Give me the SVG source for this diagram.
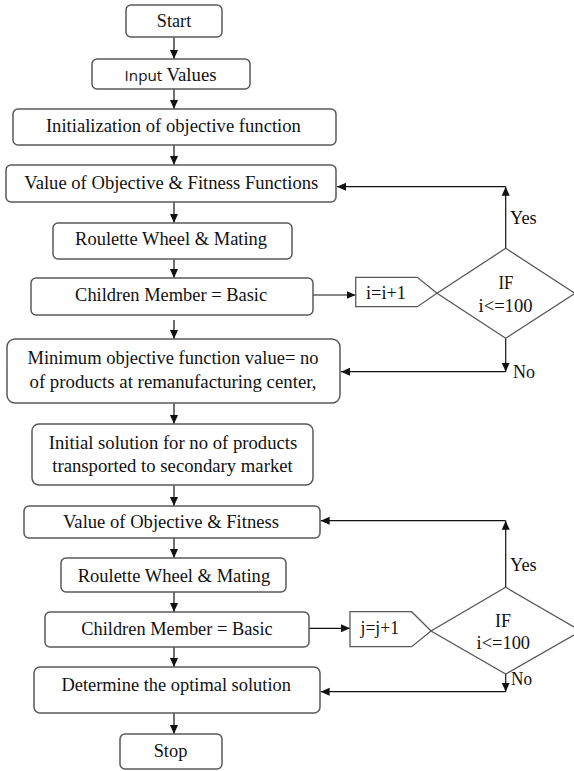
<svg xmlns="http://www.w3.org/2000/svg" width="574" height="771" viewBox="0 0 574 771">
<style>
.box{fill:#fff;stroke:#595959;stroke-width:1.5}
.shp{fill:none;stroke:#595959;stroke-width:1.3}
.t{font-family:"Liberation Serif","Times New Roman",serif;font-size:18.5px;fill:#111;text-anchor:middle}
.tl{font-family:"Liberation Serif","Times New Roman",serif;font-size:18.5px;fill:#111}
.c{stroke:#111;stroke-width:1.2;fill:none}
</style>
<defs>
<marker id="ah" markerUnits="userSpaceOnUse" markerWidth="10" markerHeight="10" viewBox="0 0 10 10" refX="9" refY="5" orient="auto">
<path d="M0,1 L9,5 L0,9 Z" fill="#111"/>
</marker>
</defs>
<rect width="574" height="771" fill="#fff"/>
<g id="connectors">
<line class="c" x1="174" y1="37" x2="174" y2="59" marker-end="url(#ah)"/>
<line class="c" x1="174" y1="89" x2="174" y2="109" marker-end="url(#ah)"/>
<line class="c" x1="174" y1="145" x2="174" y2="165" marker-end="url(#ah)"/>
<line class="c" x1="174" y1="202" x2="174" y2="223" marker-end="url(#ah)"/>
<line class="c" x1="174" y1="259" x2="174" y2="278" marker-end="url(#ah)"/>
<line class="c" x1="313" y1="295" x2="355.5" y2="295" marker-end="url(#ah)"/>
<line class="c" x1="505.7" y1="248.3" x2="505.7" y2="186.7" marker-end="url(#ah)"/>
<line class="c" x1="505.7" y1="186.7" x2="337" y2="186.7" marker-end="url(#ah)"/>
<line class="c" x1="174" y1="320" x2="174" y2="339" marker-end="url(#ah)"/>
<line class="c" x1="505.7" y1="338.3" x2="505.7" y2="371.7" marker-end="url(#ah)"/>
<line class="c" x1="505.7" y1="371.7" x2="341" y2="371.7" marker-end="url(#ah)"/>
<line class="c" x1="174" y1="403" x2="174" y2="424" marker-end="url(#ah)"/>
<line class="c" x1="174" y1="485" x2="174" y2="506" marker-end="url(#ah)"/>
<line class="c" x1="174" y1="538" x2="174" y2="558" marker-end="url(#ah)"/>
<line class="c" x1="174" y1="592" x2="174" y2="612" marker-end="url(#ah)"/>
<line class="c" x1="309" y1="628.3" x2="350" y2="628.3" marker-end="url(#ah)"/>
<line class="c" x1="505.7" y1="587.3" x2="505.7" y2="520.7" marker-end="url(#ah)"/>
<line class="c" x1="505.7" y1="520.7" x2="320.6" y2="520.7" marker-end="url(#ah)"/>
<line class="c" x1="174" y1="647" x2="174" y2="667" marker-end="url(#ah)"/>
<line class="c" x1="505.7" y1="674" x2="505.7" y2="691.7" marker-end="url(#ah)"/>
<line class="c" x1="505.7" y1="691.7" x2="320.6" y2="691.7" marker-end="url(#ah)"/>
<line class="c" x1="174" y1="713" x2="174" y2="734" marker-end="url(#ah)"/>
</g>
<g id="start"><rect class="box" x="126" y="5" width="96" height="32" rx="5"/><text class="t" x="174" y="27.3" textLength="34.4" lengthAdjust="spacingAndGlyphs">Start</text></g>
<g id="input"><rect class="box" x="92" y="59" width="158" height="30" rx="5"/><text class="t" x="170.6" y="81" textLength="92" lengthAdjust="spacingAndGlyphs"><tspan font-family="'Open Sans','Liberation Sans',sans-serif" font-size="15">Input</tspan> Values</text></g>
<g id="init"><rect class="box" x="13" y="109" width="323" height="36" rx="5"/><text class="t" x="173.4" y="131.5" textLength="255" lengthAdjust="spacingAndGlyphs">Initialization of objective function</text></g>
<g id="value1"><rect class="box" x="6" y="165" width="330" height="37" rx="5"/><text class="t" x="171.3" y="188.5" textLength="294" lengthAdjust="spacingAndGlyphs">Value of Objective &amp; Fitness Functions</text></g>
<g id="roulette1"><rect class="box" x="53" y="223" width="239" height="36" rx="5"/><text class="t" x="171.1" y="245" textLength="192" lengthAdjust="spacingAndGlyphs">Roulette Wheel &amp; Mating</text></g>
<g id="children1"><rect class="box" x="31" y="278" width="282" height="37" rx="5"/><text class="t" x="171.1" y="301" textLength="192" lengthAdjust="spacingAndGlyphs">Children Member = Basic</text></g>
<g id="incr1"><path class="shp" d="M355.7,277.3 H417.3 L437,293.3 L417.3,306.7 H355.7 Z"/><text class="tl" x="366" y="298.5" textLength="40" lengthAdjust="spacingAndGlyphs">i=i+1</text></g>
<g id="if1"><path class="shp" d="M505.7,248.3 L575,293.3 L505.7,338.3 L437,293.3 Z"/><text class="t" x="506" y="288.5" textLength="15" lengthAdjust="spacingAndGlyphs">IF</text><text class="t" x="505.5" y="312" textLength="54" lengthAdjust="spacingAndGlyphs">i&lt;=100</text><text class="tl" x="510" y="224" textLength="26.7" lengthAdjust="spacingAndGlyphs">Yes</text><text class="tl" x="513" y="378" textLength="22" lengthAdjust="spacingAndGlyphs">No</text></g>
<g id="minimum"><rect class="box" x="7" y="339" width="333" height="64" rx="8"/><text class="t" x="173" y="363.5" textLength="291" lengthAdjust="spacingAndGlyphs">Minimum objective function value= no</text><text class="t" x="173" y="387.5" textLength="287" lengthAdjust="spacingAndGlyphs">of products at remanufacturing center,</text></g>
<g id="initial"><rect class="box" x="32" y="424" width="281" height="61" rx="7"/><text class="t" x="173" y="448.5" textLength="248.5" lengthAdjust="spacingAndGlyphs">Initial solution for no of products</text><text class="t" x="172.5" y="471.5" textLength="240.5" lengthAdjust="spacingAndGlyphs">transported to secondary market</text></g>
<g id="value2"><rect class="box" x="24" y="506" width="296" height="32" rx="5"/><text class="t" x="171" y="527.5" textLength="216" lengthAdjust="spacingAndGlyphs">Value of Objective &amp; Fitness</text></g>
<g id="roulette2"><rect class="box" x="61" y="558" width="225" height="34" rx="5"/><text class="t" x="173.9" y="581.5" textLength="192.5" lengthAdjust="spacingAndGlyphs">Roulette Wheel &amp; Mating</text></g>
<g id="children2"><rect class="box" x="45" y="612" width="264" height="35" rx="5"/><text class="t" x="177" y="634.5" textLength="191.4" lengthAdjust="spacingAndGlyphs">Children Member = Basic</text></g>
<g id="incr2"><path class="shp" d="M350,611.7 H411.7 L431,631 L411.7,646.7 H350 Z"/><text class="tl" x="360.5" y="633.5" textLength="38.5" lengthAdjust="spacingAndGlyphs">j=j+1</text></g>
<g id="if2"><path class="shp" d="M505.7,587.3 L581,631 L505.7,674 L431,631 Z"/><text class="t" x="503" y="627" textLength="16" lengthAdjust="spacingAndGlyphs">IF</text><text class="t" x="503.3" y="648.5" textLength="53.5" lengthAdjust="spacingAndGlyphs">i&lt;=100</text><text class="tl" x="510" y="570.5" textLength="26.7" lengthAdjust="spacingAndGlyphs">Yes</text><text class="tl" x="511" y="684.5" textLength="21" lengthAdjust="spacingAndGlyphs">No</text></g>
<g id="determine"><rect class="box" x="34" y="667" width="286" height="46" rx="6"/><text class="t" x="176.2" y="690.5" textLength="229.5" lengthAdjust="spacingAndGlyphs">Determine the optimal solution</text></g>
<g id="stop"><rect class="box" x="120" y="734" width="102" height="35" rx="5"/><text class="t" x="170.5" y="756.5" textLength="33.7" lengthAdjust="spacingAndGlyphs">Stop</text></g>
</svg>
